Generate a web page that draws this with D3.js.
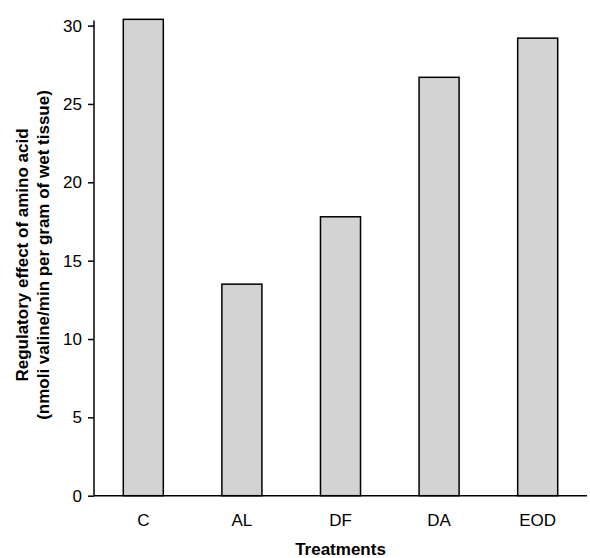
<!DOCTYPE html>
<html><head><meta charset="utf-8">
<script src="https://cdn.jsdelivr.net/npm/d3@7"></script>
<style>body{margin:0;background:#fff}svg{display:block}text{font-family:"Liberation Sans",Arial,sans-serif}</style>
</head><body>
<script>
const categories = ["C","AL","DF","DA","EOD"];
const values = [30.4, 13.5, 17.8, 26.7, 29.2];
const yTicks = [0,5,10,15,20,25,30];

const W=590,H=558;
const m={left:94,right:3,top:25,bottom:62};
const svg=d3.select("body").append("svg").attr("width",W).attr("height",H);
const x=d3.scaleBand().domain(categories).range([m.left,W-m.right]).paddingInner(0.594).paddingOuter(0.297);
const y=d3.scaleLinear().domain([0,30]).range([495.7,25.6]);

svg.selectAll("rect.bar").data(values).join("rect").attr("class","bar")
  .attr("x",(d,i)=>x(categories[i])).attr("width",x.bandwidth())
  .attr("y",d=>y(d)).attr("height",d=>y(0)-y(d))
  .attr("fill","#d3d3d3").attr("stroke","#000").attr("stroke-width",1.5);

const ya=svg.append("g").attr("transform",`translate(${m.left},0)`)
  .call(d3.axisLeft(y).tickValues(yTicks).tickSize(6).tickPadding(6).tickSizeOuter(0));
ya.select(".domain").attr("d",`M0,${y(0)}V${y(30)-5}`).attr("stroke-width",1.5);
ya.selectAll(".tick line").attr("stroke-width",1.5);
ya.selectAll("text").attr("font-size",17).attr("font-family","Liberation Sans, Arial, sans-serif").attr("fill","#000");

const xa=svg.append("g").attr("transform",`translate(0,${y(0)})`)
  .call(d3.axisBottom(x).tickSize(0).tickPadding(18));
xa.select(".domain").attr("d",`M${m.left},0H${W-m.right}`).attr("stroke-width",1.5);
xa.selectAll("text").attr("font-size",17).attr("font-family","Liberation Sans, Arial, sans-serif").attr("fill","#000");

svg.append("text").attr("x",(m.left+W-m.right)/2).attr("y",555).attr("text-anchor","middle")
  .attr("font-size",17).attr("font-weight","bold").text("Treatments");

const yl=svg.append("text").attr("transform","translate(0,255) rotate(-90)").attr("text-anchor","middle")
  .attr("font-size",17).attr("font-weight","bold");
yl.append("tspan").attr("x",0).attr("y",28).text("Regulatory effect of amino acid");
yl.append("tspan").attr("x",0).attr("y",49).text("(nmoli valine/min per gram of wet tissue)");
</script>
</body></html>
